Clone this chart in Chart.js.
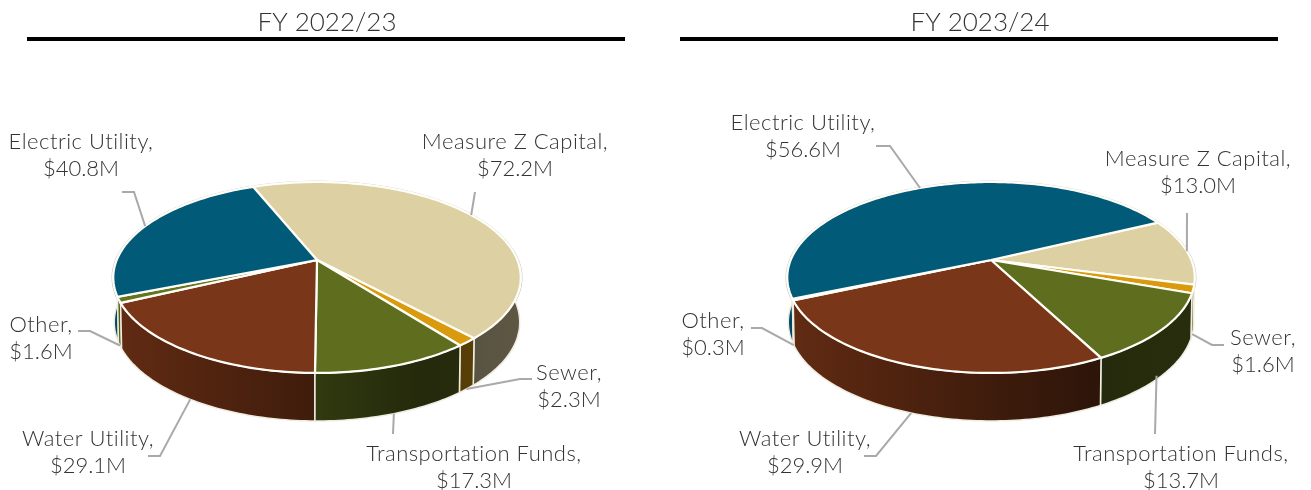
<!DOCTYPE html>
<html><head><meta charset="utf-8">
<style>
html,body{margin:0;padding:0;background:#fff;overflow:hidden}
#a,#b{position:absolute;top:0;height:490px}
#a{left:0;width:654px}#b{left:654px;width:652px}
</style>
<script src="https://cdn.jsdelivr.net/npm/chart.js@4"></script>
</head><body>
<div id="a"><canvas id="c1"></canvas></div>
<div id="b"><canvas id="c2"></canvas></div>
<script>
const categories = ["Measure Z Capital","Sewer","Transportation Funds","Water Utility","Other","Electric Utility"];
const valuesFY2223 = [72.2,2.3,17.3,29.1,1.6,40.8];
const valuesFY2324 = [13.0,1.6,13.7,29.9,0.3,56.6];
const titleFY2223 = "FY 2022/23";
const titleFY2324 = "FY 2023/24";
const sliceColors = ["#DDD0A2","#D99A0E","#5F6E1E","#7A3618","#65751F","#015A78"];

// layout of the projected disc and of the label callouts
const disc = {a:200.3,b:92.3,k:0.183,wall:44,wallGrow:4,wallScale:0.995};
const layoutA = {
  apex:[317,260], rule:[27,625], rotation:-21.9, anchorDx:[0,0,0,0,0,0],
  labels:[[515,142],[569,373],[474,454],[88,439],[41,325],[81,142]],
  elbows:[[[475,192]],[[532,379],[520,379]],[[393,434]],[[148,456],[160,456]],[[78,331],[90,331]],[[122,192],[134,192]]]
};
const layoutB = {
  apex:[337,260], rule:[26,624], rotation:64.1, anchorDx:[0,0,-5,0,0,0],
  labels:[[544,159],[609,338],[527,454],[151,439],[59,321],[149,123]],
  elbows:[[[533,213]],[[570,345],[558,345]],[[501,434]],[[210,456],[222,456]],[[97,328],[108,328]],[[222,146],[236,146]]]
};
const FONT = '300 22px Lato, sans-serif';

function shade(hex,f){
  const n=parseInt(hex.slice(1),16);
  return `rgb(${Math.round((n>>16&255)*f)},${Math.round((n>>8&255)*f)},${Math.round((n&255)*f)})`;
}
function pieChart(id,values,title,lay){
  const project=(t)=>{
    const u=Math.cos(t),v=Math.sin(t),w=1-disc.k*v;
    return [lay.apex[0]+disc.a*u/w, lay.apex[1]+disc.b*v/w];
  };
  const lower=(t)=>{
    const p=project(t),v=Math.sin(t);
    return [lay.apex[0]+(p[0]-lay.apex[0])*disc.wallScale, p[1]+disc.wall+disc.wallGrow*v];
  };
  const samples=(s,e)=>{const n=Math.max(2,Math.ceil((e-s)/0.02));const r=[];for(let i=0;i<=n;i++)r.push(s+(e-s)*i/n);return r;};
  const plugin={
    id:'disc3d',
    beforeDraw(chart){
      const c=chart.ctx;
      c.save();c.fillStyle='#000';
      c.fillRect(lay.rule[0],37,lay.rule[1]-lay.rule[0],4);
      c.restore();
    },
    beforeDatasetsDraw(chart){
      const c=chart.ctx, arcs=chart.getDatasetMeta(0).data;
      const cols=chart.data.datasets[0].backgroundColor;
      c.save();
      // outer hairline
      c.beginPath();
      samples(0,Math.PI*2).forEach((t,i)=>{const p=project(t);const x=lay.apex[0]+(p[0]-lay.apex[0])*1.006,y=p[1]+(p[1]-lay.apex[1])*0.01;i?c.lineTo(x,y):c.moveTo(x,y);});
      c.closePath();c.strokeStyle='#c4c4c4';c.lineWidth=1;c.stroke();
      // walls back to front
      const order=arcs.map((a,i)=>i).sort((p,q)=>Math.sin((arcs[p].startAngle+arcs[p].endAngle)/2)-Math.sin((arcs[q].startAngle+arcs[q].endAngle)/2));
      for(const i of order){
        const a=arcs[i],ts=samples(a.startAngle,a.endAngle);
        c.beginPath();
        ts.forEach((t,j)=>{const p=project(t);j?c.lineTo(p[0],p[1]):c.moveTo(p[0],p[1]);});
        ts.slice().reverse().forEach(t=>{const p=lower(t);c.lineTo(p[0],p[1]);});
        c.closePath();
        const g=c.createLinearGradient(lay.apex[0]-204,0,lay.apex[0]+204,0);
        g.addColorStop(0,shade(cols[i],0.8));g.addColorStop(0.5,shade(cols[i],0.52));
        g.addColorStop(0.75,shade(cols[i],0.38));g.addColorStop(1,shade(cols[i],0.42));
        c.fillStyle=g;c.fill();
        c.strokeStyle='#efece0';c.lineWidth=1.5;c.lineJoin='round';c.stroke();
      }
      // top faces
      arcs.forEach((a,i)=>{
        c.beginPath();c.moveTo(lay.apex[0],lay.apex[1]);
        samples(a.startAngle,a.endAngle).forEach(t=>{const p=project(t);c.lineTo(p[0],p[1]);});
        c.closePath();
        c.fillStyle=cols[i];c.fill();
        c.strokeStyle='#fffef8';c.lineWidth=2.2;c.lineJoin='miter';c.stroke();
      });
      // callouts
      arcs.forEach((a,i)=>{
        const mid=(a.startAngle+a.endAngle)/2;
        const end=Math.sin(mid)<0?project(mid):lower(mid);
        const pts=lay.elbows[i];
        c.beginPath();c.moveTo(pts[0][0],pts[0][1]);
        pts.slice(1).forEach(p=>c.lineTo(p[0],p[1]));
        c.lineTo(end[0]+lay.anchorDx[i],end[1]);
        c.strokeStyle='#a9a9a9';c.lineWidth=2;c.lineJoin='miter';c.stroke();
      });
      // labels
      c.font=FONT;c.fillStyle='#333333';c.textAlign='center';c.textBaseline='middle';
      chart.data.labels.forEach((name,i)=>{
        const [x,y]=lay.labels[i];
        c.letterSpacing='0.5px';
        c.fillText(name+',',x,y);
        c.letterSpacing='0px';
        c.fillText('$'+values[i].toFixed(1)+'M',x,y+26.5);
      });
      c.restore();
      return false;
    }
  };
  return new Chart(document.getElementById(id),{
    type:'pie',
    data:{labels:categories,datasets:[{data:values,backgroundColor:sliceColors,borderColor:'#fff',rotation:lay.rotation}]},
    options:{
      responsive:true,maintainAspectRatio:false,animation:false,
      events:[],
      plugins:{
        legend:{display:false},tooltip:{enabled:false},
        title:{display:true,text:title,color:'#333333',font:{family:'Lato, sans-serif',size:26,weight:'300'},padding:{top:7,bottom:0}}
      }
    },
    plugins:[plugin]
  });
}
pieChart('c1',valuesFY2223,titleFY2223,layoutA);
pieChart('c2',valuesFY2324,titleFY2324,layoutB);
</script>
</body></html>
